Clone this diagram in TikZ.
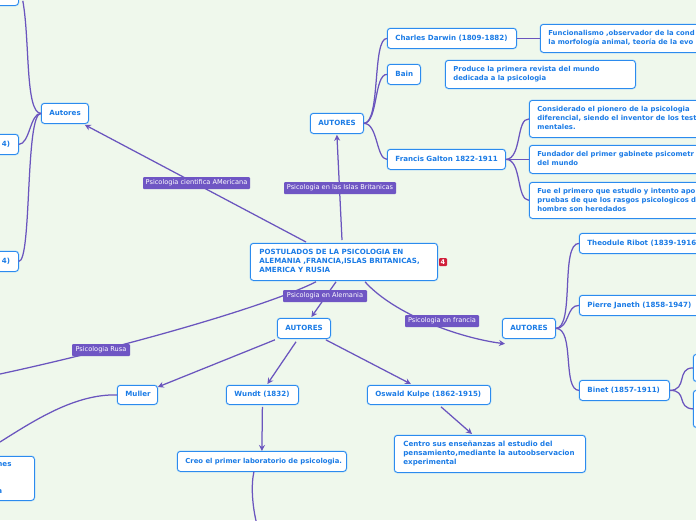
\documentclass[tikz,border=0pt]{standalone}
\usepackage{fontspec}
\setmainfont{DejaVu Sans}
\usetikzlibrary{arrows.meta}
\definecolor{bgc}{HTML}{EFF8EC}
\definecolor{edgec}{HTML}{6A55BE}
\definecolor{boxc}{HTML}{2B8BEE}
\definecolor{glowc}{HTML}{A3D2F8}
\definecolor{textc}{HTML}{1A7BE6}
\definecolor{tagc}{HTML}{6F56C4}
\definecolor{iconc}{HTML}{D0203A}
\tikzset{
 tbox/.style={rectangle,rounded corners=3pt,draw=boxc,fill=white,line width=.8pt,
   preaction={draw=glowc,line width=1.8pt},font=\fontsize{7.1}{8.9}\selectfont\bfseries,text=textc,anchor=north west,inner sep=0pt},
 tsmall/.style={tbox,font=\fontsize{6.85}{8.9}\selectfont\bfseries},
 tag/.style={rectangle,rounded corners=1pt,fill=tagc,text=white,font=\fontsize{6.6}{7.5}\selectfont,inner sep=0pt,anchor=center,text height=5pt,text depth=1.5pt},
 link/.style={draw=edgec,line width=1.25pt},
 arr/.style={link,-{Stealth[length=6pt,width=6pt]}}
}
% [style], name, x1, y1, x2, y2, left padding, text
\newcommand{\bx}[8][tbox]{\pgfmathsetlengthmacro{\bw}{#5-#3}\pgfmathsetlengthmacro{\bh}{#6-#4}
 \node[#1,minimum width=\bw,minimum height=\bh] (#2) at (#3,#4) {\makebox[\bw][l]{\hspace*{#7pt}\raisebox{-.6pt}{\begin{tabular}{@{}l@{}}#8\end{tabular}}}};}
\newcommand{\tg}[6]{\pgfmathsetlengthmacro{\bw}{#4-#2}\pgfmathsetlengthmacro{\bh}{#5-#3}
 \node[tag,minimum width=\bw,minimum height=\bh,align=center] (#1) at ({(#2+#4)/2},{(#3+#5)/2}) {#6};}
\begin{document}
\begin{tikzpicture}[x=1pt,y=-1pt]
\useasboundingbox (0,0) rectangle (696,520);
\fill[bgc] (0,0) rectangle (696,520);
\clip (0,0) rectangle (696,520);
\bx{main}{250}{243}{437}{280}{9}{POSTULADOS DE LA PSICOLOGIA EN\\ALEMANIA ,FRANCIA,ISLAS BRITANICAS,\\AMERICA Y RUSIA}
\bx{autb}{310}{113}{363}{133}{8}{AUTORES}
\bx{darwin}{387}{28}{516}{48}{8}{Charles Darwin (1809-1882)}
\bx[tsmall]{func}{540}{24}{760}{52}{8}{Funcionalismo ,observador de la cond\\la morfología animal, teoría de la evo}
\bx{bain}{387}{64}{420}{84}{8}{Bain}
\bx[tsmall]{prod}{445}{60}{635}{88}{8}{Produce la primera revista del mundo\\dedicada a la psicologia}
\bx{galton}{387}{149}{505}{169}{8}{Francis Galton 1822-1911}
\bx[tsmall]{cons}{529}{100}{760}{137}{8}{Considerado el pionero de la psicologia\\diferencial, siendo el inventor de los test\\mentales.}
\bx[tsmall]{fund}{529}{145}{760}{173}{8}{Fundador del primer gabinete psicometr\\del mundo}
\bx[tsmall]{fue}{529}{182}{760}{218}{8}{Fue el primero que estudio y intento apo\\pruebas de que los rasgos psicologicos d\\hombre son heredados}
\bx{auta}{41}{103}{88}{123}{8}{Autores}
\bx{la}{-40}{-15}{18}{5}{2}{}
\bx{lb}{-40}{134}{18}{154}{41.5}{4)}
\bx{lc}{-40}{251}{18}{271}{41.5}{4)}
\bx{auta2}{277}{318}{330}{338}{8}{AUTORES}
\bx{muller}{117}{385}{157}{404}{8}{Muller}
\bx{wundt}{226}{385}{298}{404}{8}{Wundt (1832)}
\bx{oswald}{367}{385}{490}{404}{8}{Oswald Kulpe (1862-1915)}
\bx{centro}{394}{435}{585}{472}{9}{Centro sus enseñanzas al estudio del\\pensamiento,mediante la autoobservacion\\experimental}
\bx[tsmall]{creo}{177}{451}{346}{471}{8}{Creo el primer laboratorio de psicologia.}
\bx{lleft}{-80}{456}{34}{500}{77}{nes\\[18pt]a}
\bx{autc}{502}{318}{555}{338}{8}{AUTORES}
\bx{ribot}{579}{233}{760}{253}{8}{Theodule Ribot (1839-1916}
\bx{janet}{579}{295}{760}{315}{8}{Pierre Janeth (1858-1947)}
\bx{binet}{579}{380}{669}{400}{8}{Binet (1857-1911)}
\bx{ra}{693}{354}{760}{381}{8}{}
\bx{rb}{693}{390}{760}{427}{8}{}
% icon
\node[rectangle,rounded corners=1pt,fill=iconc,text=white,font=\fontsize{6.5}{6}\selectfont\bfseries,minimum width=8pt,minimum height=8pt,inner sep=0pt] (icon) at (443,262) {4};
% tree links
\draw[link] (darwin.east) -- (func.west);
\draw[link] (autb.east) .. controls (381,123) and (372,38) .. (darwin.west);
\draw[link] (autb.east) .. controls (378,123) and (374,74) .. (bain.west);
\draw[link] (autb.east) .. controls (378,123) and (376,159) .. (galton.west);
\draw[link] (galton.east) .. controls (522,159) and (516,118) .. (cons.west);
\draw[link] (galton.east) -- (fund.west);
\draw[link] (galton.east) .. controls (522,159) and (516,200) .. (fue.west);
\draw[link] (auta.west) .. controls (25,113) and (30,40) .. ([shift={(4pt,5pt)}]la.south east);
\draw[link] (auta.west) .. controls (30,113) and (30,144) .. (lb.east);
\draw[link] (auta.west) .. controls (25,113) and (32,261) .. (lc.east);
\draw[link] (autc.east) .. controls (575,328) and (560,243) .. (ribot.west);
\draw[link] (autc.east) .. controls (570,328) and (566,305) .. (janet.west);
\draw[link] (autc.east) .. controls (575,328) and (562,390) .. (binet.west);
\draw[link] (binet.east) .. controls (688,390) and (676,368) .. (ra.west);
\draw[link] (binet.east) .. controls (688,390) and (676,408) .. (rb.west);
% main links
\draw[arr] ([shift={(92pt,3pt)}]main.north west) -- ([yshift=-1pt]autb.south);
\draw[arr] ([shift={(56pt,1pt)}]main.north west) -- ([shift={(-4pt,-1pt)}]auta.south east);
\draw[arr] ([shift={(86pt,-1pt)}]main.south west) -- ([shift={(7.5pt,1pt)}]auta2.north);
\draw[arr] ([shift={(115pt,-1pt)}]main.south west) .. controls (395,315) and (460,338) .. ([shift={(3pt,-5pt)}]autc.south west);
\draw[link] ([shift={(66pt,-1pt)}]main.south west) .. controls (270,305) and (130,346) .. (0,374);
\draw[arr] ([shift={(-2pt,-1pt)}]auta2.south west) -- ([shift={(0pt,-2pt)}]muller.north east);
\draw[arr] ([shift={(19pt,-3pt)}]auta2.south west) -- ([shift={(5pt,1pt)}]wundt.north);
\draw[arr] ([shift={(-5pt,-1pt)}]auta2.south east) -- ([shift={(-18pt,1pt)}]oswald.north);
\draw[arr] ([shift={(74pt,-2pt)}]oswald.south west) -- ([shift={(78pt,1pt)}]centro.north west);
\draw[arr] ([yshift=-2pt]wundt.south) -- (creo.north);
\draw[link] ([xshift=-8pt]creo.south) .. controls (251,485) and (252,505) .. (257,525);
\draw[link] (muller.west) .. controls (75,394) and (35,420) .. (0,442);
% labels
\tg{t1}{143}{177}{250}{189}{Psicologia cientifica AMericana}
\tg{t2}{284}{182}{396}{194}{Psicologia en las Islas Britanicas}
\tg{t3}{283}{290}{367}{302}{Psicologia en Alemania}
\tg{t4}{405}{315}{479}{327}{Psicologia en francia}
\tg{t5}{72}{344}{130}{356}{Psicologia Rusa}
\end{tikzpicture}
\end{document}
